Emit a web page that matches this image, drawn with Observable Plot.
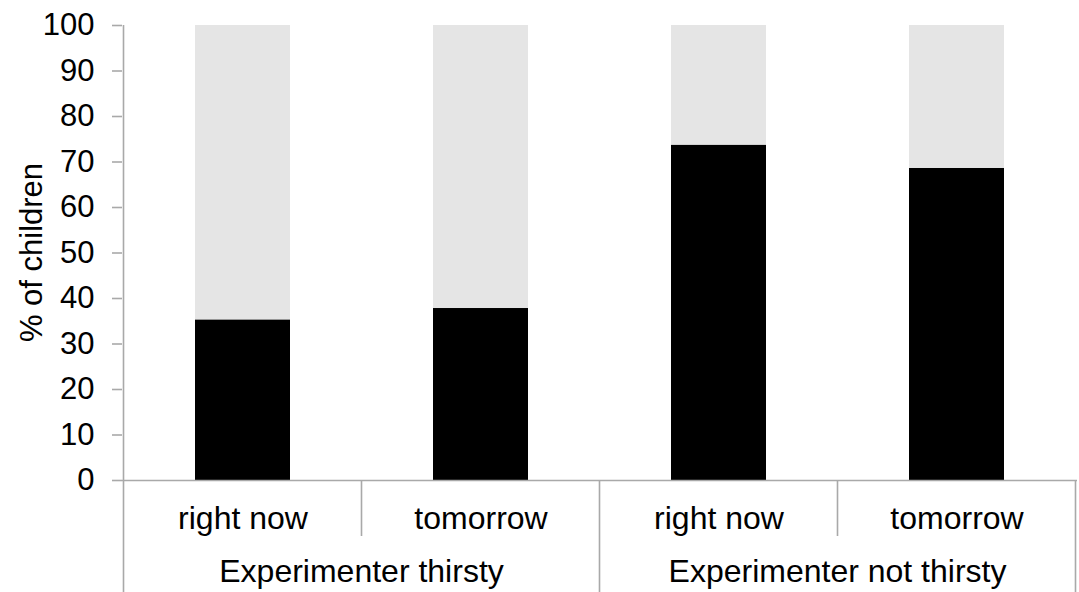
<!DOCTYPE html>
<html><head><meta charset="utf-8">
<script src="https://cdn.jsdelivr.net/npm/d3@7"></script>
<script src="https://cdn.jsdelivr.net/npm/@observablehq/plot@0.6"></script>
<style>body{margin:0;background:#fff}</style>
</head><body><div id="chart"></div>
<script>
const groups = ["Experimenter thirsty", "Experimenter thirsty", "Experimenter not thirsty", "Experimenter not thirsty"];
const times = ["right now", "tomorrow", "right now", "tomorrow"];
const chosenPct = [35.3, 37.8, 73.7, 68.6];
const yTicks = [0, 10, 20, 30, 40, 50, 60, 70, 80, 90, 100];
const yLabel = "% of children";

const keys = groups.map((g, i) => g + "|" + times[i]);
const rows = [];
keys.forEach((k, i) => {
  rows.push({key: k, part: "chosen", value: chosenPct[i]});
  rows.push({key: k, part: "other", value: 100 - chosenPct[i]});
});

const W = 1079, H = 592, mL = 122, mR = 2, mT = 25, mB = 112;
const font = '"Liberation Sans", Arial, Helvetica, sans-serif';
const axisColor = "#a9a9a9";

const plot = Plot.plot({
  width: W, height: H,
  marginLeft: mL, marginRight: mR, marginTop: mT, marginBottom: mB,
  style: {fontFamily: font, fontSize: "31px", color: "#000", background: "#fff"},
  x: {domain: keys, paddingInner: 0.6, paddingOuter: 0.3, label: null},
  y: {domain: [0, 100], label: null},
  color: {domain: ["chosen", "other"], range: ["#000000", "#e5e5e5"]},
  marks: [
    Plot.barY(rows, {x: "key", y: "value", fill: "part"}),
    Plot.axisY({ticks: yTicks, tickSize: 10, tickPadding: 18, stroke: axisColor, strokeWidth: 1.6, label: null, fontSize: 31}),
    Plot.axisX({tickSize: 0, tickPadding: 26, tickFormat: d => d.split("|")[1], label: null, fontSize: 32}),
    Plot.ruleY([0], {stroke: axisColor, strokeWidth: 1.6})
  ]
});
document.getElementById("chart").appendChild(plot);

const xs = plot.scale("x");
const ys = plot.scale("y");
const svg = d3.select(plot);
const g = svg.append("g").attr("stroke", axisColor).attr("stroke-width", 1.6);
const y0 = ys.apply(0), yTop = ys.apply(100);
const center = k => xs.apply(k) + xs.bandwidth / 2;
// y axis line
const left = center(keys[0]) - xs.step / 2;
g.append("line").attr("x1", left).attr("x2", left).attr("y1", yTop).attr("y2", H);
// separators
keys.forEach((k, i) => {
  const xr = center(k) + xs.step / 2;
  const groupEnd = i === keys.length - 1 || groups[i + 1] !== groups[i];
  g.append("line").attr("x1", xr).attr("x2", xr).attr("y1", y0)
    .attr("y2", groupEnd ? H : y0 + 56);
});
// group labels
const uniq = Array.from(new Set(groups));
uniq.forEach(gr => {
  const ks = keys.filter((k, i) => groups[i] === gr);
  const cx = d3.mean(ks, center);
  svg.append("text").attr("x", cx).attr("y", y0 + 102).attr("text-anchor", "middle")
    .attr("font-size", 32).attr("fill", "#000").text(gr);
});
// y label
svg.append("text")
  .attr("transform", `translate(42,${(yTop + y0) / 2}) rotate(-90)`)
  .attr("text-anchor", "middle").attr("font-size", 31).attr("fill", "#000").text(yLabel);
</script>
</body></html>
